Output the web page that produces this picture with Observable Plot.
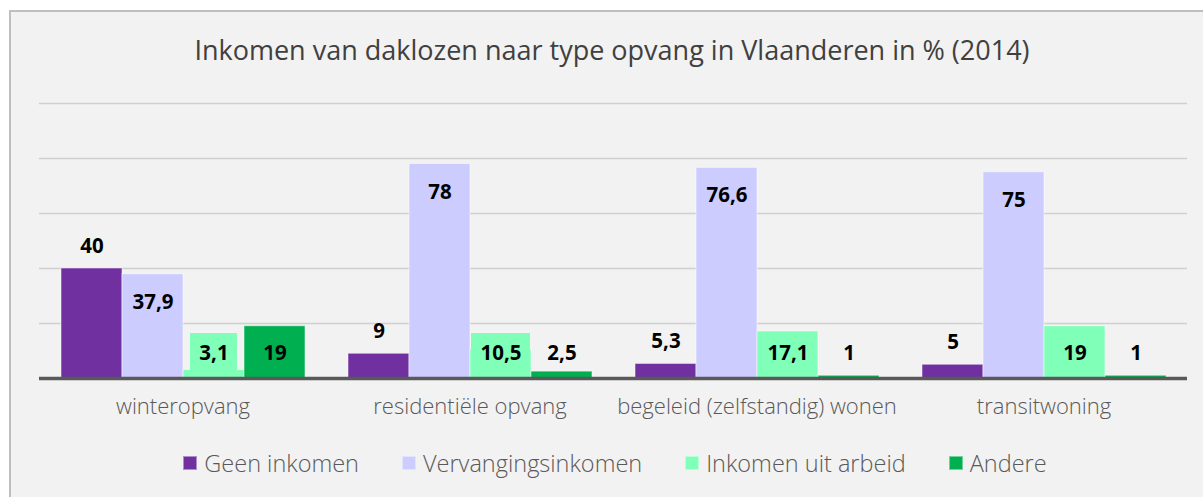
<!DOCTYPE html>
<html>
<head>
<meta charset="utf-8">
<script src="https://cdn.jsdelivr.net/npm/d3@7"></script>
<script src="https://cdn.jsdelivr.net/npm/@observablehq/plot@0.6"></script>
<style>
  html, body { margin: 0; padding: 0; background: #ffffff; width: 1203px; height: 497px; overflow: hidden; }
  #panel { position: absolute; left: 9px; top: 10px; width: 1300px; height: 600px;
           background: #f2f2f2; border-left: 2px solid #bfbfbf; border-top: 2px solid #bfbfbf; }
  #title { position: absolute; left: 0; top: 35px; width: 1224px; text-align: center;
           font-family: "Open Sans", sans-serif; font-size: 27px; line-height: 30px; color: #404040; white-space: nowrap; }
  #chart { position: absolute; left: 0; top: 80px; }
  #legend { position: absolute; left: 0; top: 448px; width: 1230px; display: flex; justify-content: center; align-items: center;
            font-family: "Open Sans", sans-serif; font-weight: 300; font-size: 23.5px; line-height: 30px; color: #595959; }
  .item { display: flex; align-items: center; margin: 0 21.5px; }
  .sw { width: 14px; height: 14px; margin-right: 7px; box-sizing: border-box; border: 1px solid rgba(255,255,255,0.45); }
</style>
</head>
<body>
<div id="panel"></div>
<div id="title">Inkomen van daklozen naar type opvang in Vlaanderen in % (2014)</div>
<div id="chart"></div>
<div id="legend"></div>
<script>
const categories = ["winteropvang", "residentiële opvang", "begeleid (zelfstandig) wonen", "transitwoning"];
const series = ["Geen inkomen", "Vervangingsinkomen", "Inkomen uit arbeid", "Andere"];
const geenInkomen = [40, 9, 5.3, 5];
const vervangingsinkomen = [37.9, 78, 76.6, 75];
const inkomenUitArbeid = [3.1, 10.5, 17.1, 19];
const andere = [19, 2.5, 1, 1];
const colors = ["#7030a0", "#ccccff", "#80ffb9", "#00b050"];
const gridTicks = [20, 40, 60, 80, 100];

const valuesBySeries = [geenInkomen, vervangingsinkomen, inkomenUitArbeid, andere];
const data = [];
series.forEach((s, j) => categories.forEach((c, i) => {
  data.push({cat: c, series: s, value: valuesBySeries[j][i], label: String(valuesBySeries[j][i]).replace(".", ",")});
}));

const labelFont = {fontFamily: "Open Sans", fontWeight: "bold", fontSize: 20.5, fill: "black", lineAnchor: "middle"};
const boxed = series[2];
const gapHalf = -21;

const chart = Plot.plot({
  width: 1203,
  height: 350,
  marginLeft: 39,
  marginRight: 15,
  marginTop: 23,
  marginBottom: 52,
  style: {background: "transparent", fontFamily: "Open Sans", fontWeight: 300, fontSize: "22px", color: "#595959"},
  fx: {domain: categories, paddingInner: 0.146, paddingOuter: 0.073, axis: "bottom", label: null, tickSize: 0, tickPadding: 20},
  x: {domain: series, padding: 0, axis: null},
  y: {domain: [0, 100], axis: null},
  color: {domain: series, range: colors},
  marks: [
    Plot.ruleY(gridTicks, {stroke: "#d0d0d0", strokeWidth: 1.5, insetLeft: gapHalf, insetRight: gapHalf}),
    Plot.barY(data, {fx: "cat", x: "series", y: "value", fill: "series", stroke: "white", strokeOpacity: 0.5, strokeWidth: 1}),
    Plot.barY(data.filter(d => d.series === boxed && d.label.length <= 3), {fx: "cat", x: "series", y1: 0, y2: 0, fill: "series", insetTop: -45, insetBottom: 8, insetLeft: 7, insetRight: 7}),
    Plot.barY(data.filter(d => d.series === boxed && d.label.length > 3), {fx: "cat", x: "series", y1: 0, y2: 0, fill: "series", insetTop: -45, insetBottom: 8, insetLeft: 1, insetRight: 1}),
    Plot.ruleY([0], {stroke: "#595959", strokeWidth: 3.5, insetLeft: gapHalf, insetRight: gapHalf}),
    Plot.text(data.filter(d => d.series === series[0]), {fx: "cat", x: "series", y: "value", text: "label", dy: -22, ...labelFont}),
    Plot.text(data.filter(d => d.series === series[1]), {fx: "cat", x: "series", y: "value", text: "label", dy: 28, ...labelFont}),
    Plot.text(data.filter(d => d.series === series[2] || d.series === series[3]), {fx: "cat", x: "series", y: 0, text: "label", dy: -25, ...labelFont})
  ]
});
document.getElementById("chart").appendChild(chart);

const legend = document.getElementById("legend");
series.forEach((s, j) => {
  const item = document.createElement("div");
  item.className = "item";
  const sw = document.createElement("span");
  sw.className = "sw";
  sw.style.background = colors[j];
  const t = document.createElement("span");
  t.textContent = s;
  item.appendChild(sw);
  item.appendChild(t);
  legend.appendChild(item);
});
</script>
</body>
</html>
